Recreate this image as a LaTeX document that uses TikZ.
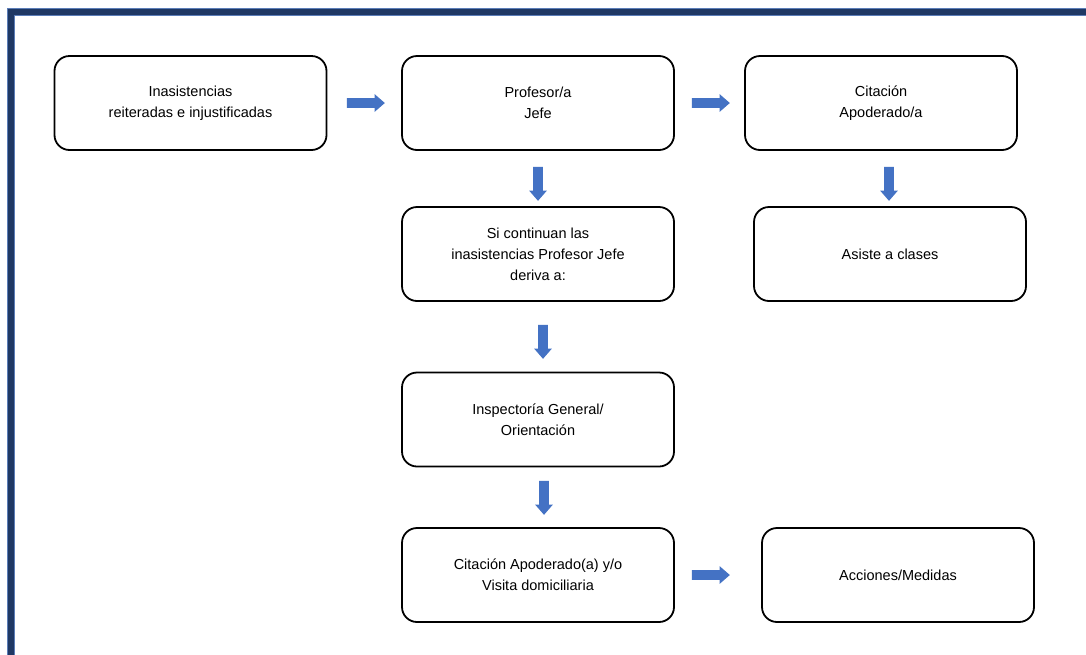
\documentclass[tikz,border=0pt]{standalone}
\usepackage{fontspec}
\setmainfont{Liberation Sans}
\usetikzlibrary{shapes.arrows}
\definecolor{navy}{HTML}{1F3864}
\definecolor{edgeblue}{HTML}{5B7DB8}
\definecolor{arrowblue}{HTML}{4472C4}
\begin{document}
\begin{tikzpicture}[x=1pt,y=-1pt,
  box/.style={draw=black, line width=1.8pt, rounded corners=15pt, minimum width=272pt, minimum height=94pt, align=center, font=\fontsize{14.5}{21}\selectfont, inner sep=0pt},
  blk/.style={single arrow, fill=arrowblue, draw=none, minimum height=38pt, single arrow head extend=4pt, inner sep=4.7pt, single arrow tip angle=82},
  ]
\useasboundingbox (0,0) rectangle (1086,654);
\fill[white] (0,0) rectangle (1086,654);
% frame
\draw[edgeblue, line width=8pt] (10.5,660) -- (10.5,11.5) -- (1095,11.5);
\draw[navy, line width=6pt] (10.5,660) -- (10.5,11.5) -- (1095,11.5);
% boxes
\node[box] (a) at (190.5,103) {Inasistencias\\reiteradas e injustificadas};
\node[box] (b) at (538,103) {Profesor/a\\Jefe};
\node[box] (c) at (881,103) {Citación\\Apoderado/a};
\node[box] (d) at (538,254) {Si continuan las\\inasistencias Profesor Jefe\\deriva a:};
\node[box] (e) at (890,254) {Asiste a clases};
\node[box] (f) at (538,419.5) {Inspectoría General/\\Orientación};
\node[box] (g) at (538,575) {Citación Apoderado(a) y/o\\Visita domiciliaria};
\node[box] (h) at (898,575) {Acciones/Medidas};
% block arrows
\node[blk] (ab) at (363,103) {};
\node[blk] (bc) at (708,103) {};
\node[blk, rotate=-90, minimum height=34pt] (bd) at (538,181) {};
\node[blk, rotate=-90, minimum height=34pt] (ce) at (889,181) {};
\node[blk, rotate=-90, minimum height=34pt] (df) at (543,339) {};
\node[blk, rotate=-90, minimum height=34pt] (fg) at (544,495) {};
\node[blk] (gh) at (708,575) {};
\end{tikzpicture}
\end{document}
